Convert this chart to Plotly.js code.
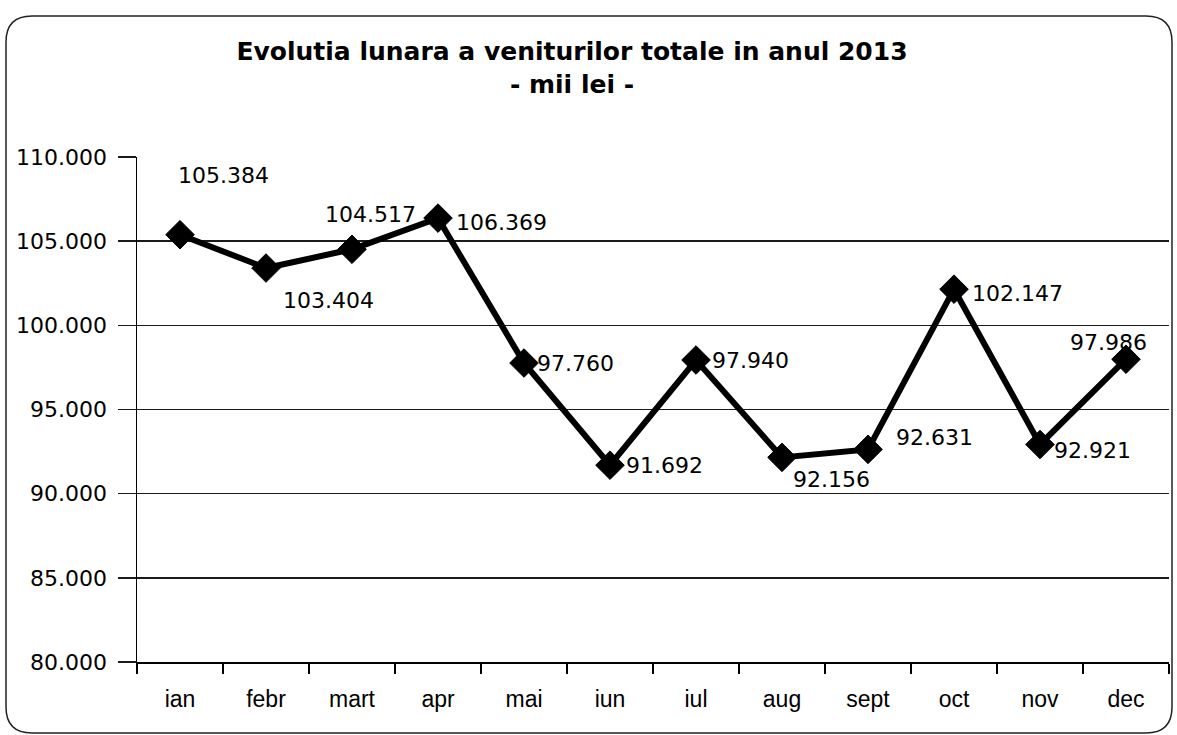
<!DOCTYPE html>
<html>
<head>
<meta charset="utf-8">
<script src="https://cdn.plot.ly/plotly-3.0.1.min.js"></script>
<style>
  html, body { margin: 0; padding: 0; background: #fff; }
  #chart { width: 1177px; height: 735px; }
</style>
</head>
<body>
<div id="chart"></div>
<script>
// ---- data ----
const months = ["ian", "febr", "mart", "apr", "mai", "iun", "iul", "aug", "sept", "oct", "nov", "dec"];
const revenue = [105384, 103404, 104517, 106369, 97760, 91692, 97940, 92156, 92631, 102147, 92921, 97986];
const yTicks = [80000, 85000, 90000, 95000, 100000, 105000, 110000];
const titleLines = ["Evolutia lunara a veniturilor totale in anul 2013", "- mii lei -"];

// ---- label offsets (pixels, style only) ----
const labelDx = [43, 62, 18, 63, 51, 54, 54, 49, 66, 63, 52, -18];
const labelDy = [59, -32, 35, -4, 0, 0, 0, -22, 12, -4, -6, 17];

function fmt(v) {
  return String(v).replace(/\B(?=(\d{3})+(?!\d))/g, ".");
}

const W = 1177, H = 735;
const M = { l: 137, r: 8, t: 157, b: 73 };
const pw = W - M.l - M.r, ph = H - M.t - M.b;
const px = x => (x - M.l) / pw;
const py = y => (H - M.b - y) / ph;

// rounded frame around whole chart
const fl = 6, ft = 16, fr = 1172, fb = 733, rr = 26;
const framePath =
  `M ${px(fl)},${py(ft + rr)} ` +
  `Q ${px(fl)},${py(ft)} ${px(fl + rr)},${py(ft)} ` +
  `L ${px(fr - rr)},${py(ft)} ` +
  `Q ${px(fr)},${py(ft)} ${px(fr)},${py(ft + rr)} ` +
  `L ${px(fr)},${py(fb - rr)} ` +
  `Q ${px(fr)},${py(fb)} ${px(fr - rr)},${py(fb)} ` +
  `L ${px(fl + rr)},${py(fb)} ` +
  `Q ${px(fl)},${py(fb)} ${px(fl)},${py(fb - rr)} Z`;

const trace = {
  type: "scatter",
  mode: "lines+markers",
  x: months,
  y: revenue,
  line: { color: "#000", width: 6 },
  marker: { symbol: "diamond", size: 22, color: "#000", line: { color: "#000", width: 1 } },
  cliponaxis: false,
  hoverinfo: "skip"
};

const annotations = months.map((m, i) => ({
  x: m, y: revenue[i], xref: "x", yref: "y",
  text: fmt(revenue[i]),
  showarrow: false,
  xshift: labelDx[i], yshift: labelDy[i],
  font: { family: "DejaVu Sans, Verdana, sans-serif", size: 22, color: "#000" }
}));

const layout = {
  width: W, height: H,
  margin: M,
  paper_bgcolor: "#fff",
  plot_bgcolor: "#fff",
  showlegend: false,
  separators: ",.",
  title: {
    text: "<b>" + titleLines[0] + "</b><br><b>" + titleLines[1] + "</b>",
    x: 572 / W, xanchor: "center", xref: "container",
    y: 1 - 60 / H, yanchor: "top", yref: "container",
    font: { family: "DejaVu Sans, Tahoma, sans-serif", size: 25, color: "#000" }
  },
  xaxis: {
    type: "category",
    categoryorder: "array", categoryarray: months,
    range: [-0.5, months.length - 0.5],
    showgrid: false,
    showline: true, linecolor: "#000", linewidth: 1.5,
    ticks: "outside", tickson: "boundaries", ticklen: 10, tickwidth: 1.2, tickcolor: "#000",
    ticklabelstandoff: 16,
    tickfont: { family: "Liberation Sans, Arial, sans-serif", size: 23, color: "#000" },
    zeroline: false, fixedrange: true
  },
  yaxis: {
    range: [80000, 110000],
    tickvals: yTicks,
    ticktext: yTicks.map(fmt),
    showgrid: true, gridcolor: "#1a1a1a", gridwidth: 1.5,
    showline: true, linecolor: "#000", linewidth: 1.5,
    ticks: "outside", ticklen: 18, tickwidth: 1.5, tickcolor: "#1a1a1a",
    ticklabelstandoff: 6,
    tickfont: { family: "DejaVu Sans, Verdana, sans-serif", size: 22, color: "#000" },
    zeroline: false, fixedrange: true
  },
  annotations: annotations,
  shapes: [{
    type: "path", xref: "paper", yref: "paper",
    path: framePath,
    line: { color: "#222", width: 1.5 },
    fillcolor: "rgba(0,0,0,0)",
    layer: "below"
  }]
};

Plotly.newPlot("chart", [trace], layout, { staticPlot: true, displayModeBar: false });
</script>
</body>
</html>
